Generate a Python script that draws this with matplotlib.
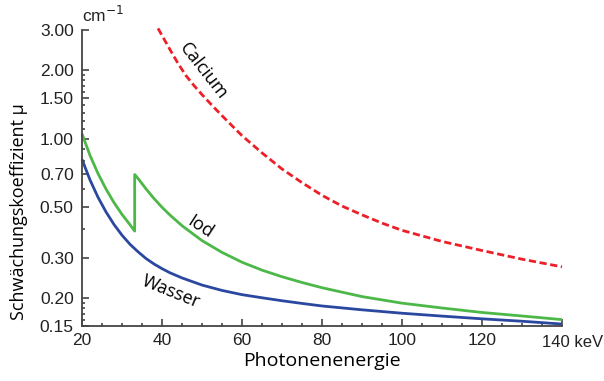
import numpy as np
import matplotlib
matplotlib.use("Agg")
import matplotlib.pyplot as plt
from matplotlib.ticker import FixedLocator, NullFormatter

# ========= Daten =========
wasser_kev = [20, 22, 24, 26, 28, 30, 32, 34, 36, 38, 40, 42, 45, 50, 55, 60, 65, 70, 75, 80,
              90, 100, 110, 120, 130, 140]
wasser_mu = [0.810, 0.658, 0.552, 0.476, 0.419, 0.376, 0.343, 0.318, 0.297, 0.281, 0.268, 0.257,
             0.244, 0.227, 0.215, 0.206, 0.1996, 0.1937, 0.1885, 0.1837, 0.1767, 0.1707, 0.1658,
             0.1613, 0.1574, 0.153]

iod_kev = [20, 22, 24, 26, 28, 30, 32, 33.17, 33.17, 34, 36, 38, 40, 42, 45, 50, 55, 60, 65, 70,
           75, 80, 90, 100, 110, 120, 130, 140]
iod_mu = [1.05, 0.843, 0.702, 0.600, 0.523, 0.464, 0.418, 0.392, 0.695, 0.668, 0.601, 0.545,
          0.499, 0.461, 0.414, 0.356, 0.316, 0.286, 0.264, 0.247, 0.233, 0.221, 0.202, 0.189,
          0.180, 0.172, 0.166, 0.160]

calcium_kev = [39, 40, 42, 44, 46, 48, 50, 53, 56, 60, 65, 70, 75, 80, 85, 90, 95, 100, 110,
               120, 130, 140]
calcium_mu = [3.05, 2.84, 2.46, 2.14, 1.89, 1.71, 1.56, 1.37, 1.21, 1.03, 0.865, 0.735, 0.640,
              0.563, 0.505, 0.462, 0.425, 0.395, 0.353, 0.322, 0.295, 0.273]

y_ticks = [0.15, 0.20, 0.30, 0.50, 0.70, 1.00, 1.50, 2.00, 3.00]
y_minor = [0.16, 0.17, 0.18, 0.19, 0.4, 0.6, 0.8, 0.9, 1.1, 1.2, 1.3, 1.4, 1.6, 1.7, 1.8, 1.9]
x_ticks = [20, 40, 60, 80, 100, 120, 140]
x_labels = ["20", "40", "60", "80", "100", "120", ""]
# ===================================

plt.rcParams.update({
    "font.family": ["Liberation Sans", "DejaVu Sans"],
    "font.size": 12,
    "axes.linewidth": 1.3,
})
label_font = ["Open Sans", "DejaVu Sans"]

fig = plt.figure(figsize=(6.04, 3.81), dpi=100)
ax = fig.add_axes([82 / 604, 1 - 326 / 381, 480 / 604, 296 / 381])

blue = "#2b48a0"
green = "#4cb848"
red = "#ec2028"

ax.plot(wasser_kev, wasser_mu, color=blue, lw=2.0, clip_on=False, solid_capstyle="butt")
ax.plot(iod_kev, iod_mu, color=green, lw=2.0, clip_on=False, solid_capstyle="butt")
ax.plot(calcium_kev, calcium_mu, color=red, lw=2.0, ls=(0, (2.6, 1.3)), clip_on=False)

ax.set_yscale("log")
ax.set_xlim(20, 140)
ax.set_ylim(0.15, 3.0)

ax.yaxis.set_major_locator(FixedLocator(y_ticks))
ax.set_yticklabels([f"{v:.2f}" for v in y_ticks])
ax.yaxis.set_minor_locator(FixedLocator(y_minor))
ax.yaxis.set_minor_formatter(NullFormatter())
ax.set_xticks(x_ticks)
ax.set_xticklabels(x_labels)
ax.set_xticks(np.arange(25, 140, 5), minor=True)

for s in ["top", "right"]:
    ax.spines[s].set_visible(False)
for s in ["left", "bottom"]:
    ax.spines[s].set_color("#444444")

ax.tick_params(which="major", direction="in", length=5, width=1.2, color="#444444",
               labelsize=12.5, labelcolor="#222222")
ax.tick_params(which="minor", direction="in", length=2.5, width=1.2, color="#444444")
ax.tick_params(axis="y", which="major", pad=6)
ax.tick_params(axis="x", which="major", pad=5)

ax.set_xlabel("Photonenenergie", fontsize=14, family=label_font, labelpad=3)
ax.set_ylabel("Schwächungskoeffizient µ", fontsize=13, family=label_font)
ax.yaxis.set_label_coords(-0.112, 0.385)

# "140 keV" als eine Beschriftung unter dem letzten Tick
ax.annotate("140 keV", xy=(140, 0), xycoords=("data", "axes fraction"), xytext=(-14.5, -6.8),
            textcoords="offset points", ha="left", va="top", fontsize=12, color="#222222")
ax.annotate("cm$^{-1}$", xy=(20, 1), xycoords=("data", "axes fraction"), xytext=(0, 3.5),
            textcoords="offset points", ha="left", va="bottom", fontsize=12.5, color="#222222")

ax.text(50.3, 1.98, "Calcium", rotation=-52, fontsize=13, family=label_font,
        ha="center", va="center", rotation_mode="anchor")
ax.text(49.5, 0.41, "Iod", rotation=-33, fontsize=13, family=label_font,
        ha="center", va="center", rotation_mode="anchor")
ax.text(42.3, 0.212, "Wasser", rotation=-22, fontsize=13, family=label_font,
        ha="center", va="center", rotation_mode="anchor")

fig.savefig("out.png", dpi=100)
plt.close(fig)
